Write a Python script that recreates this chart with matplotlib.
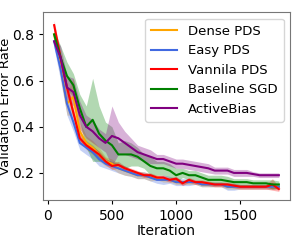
import numpy as np
import matplotlib
matplotlib.use('Agg')
import matplotlib.pyplot as plt

plt.rcParams['font.family'] = ['DejaVu Sans']

iters = np.arange(50, 1801, 50)

# mean curves
dense = [0.80, 0.66, 0.50, 0.53, 0.38, 0.33, 0.31, 0.28, 0.25, 0.24, 0.22, 0.21,
         0.20, 0.19, 0.19, 0.18, 0.18, 0.17, 0.17, 0.16, 0.16, 0.16, 0.16, 0.15,
         0.15, 0.15, 0.15, 0.14, 0.14, 0.14, 0.14, 0.14, 0.14, 0.14, 0.14, 0.14]
easy = [0.77, 0.65, 0.50, 0.42, 0.33, 0.31, 0.29, 0.26, 0.24, 0.23, 0.22, 0.21,
        0.20, 0.19, 0.19, 0.18, 0.17, 0.17, 0.17, 0.16, 0.16, 0.16, 0.16, 0.15,
        0.15, 0.15, 0.15, 0.14, 0.14, 0.14, 0.14, 0.14, 0.14, 0.14, 0.14, 0.14]
vannila = [0.84, 0.70, 0.57, 0.46, 0.35, 0.32, 0.30, 0.28, 0.25, 0.23, 0.235, 0.22,
           0.21, 0.20, 0.19, 0.19, 0.18, 0.18, 0.17, 0.175, 0.155, 0.17, 0.16, 0.16,
           0.155, 0.15, 0.15, 0.15, 0.145, 0.14, 0.14, 0.14, 0.14, 0.14, 0.15, 0.13]
baseline = [0.80, 0.70, 0.62, 0.58, 0.48, 0.40, 0.43, 0.37, 0.34, 0.32, 0.28, 0.28,
            0.28, 0.27, 0.25, 0.23, 0.22, 0.22, 0.21, 0.19, 0.20, 0.19, 0.19, 0.18,
            0.17, 0.17, 0.17, 0.165, 0.16, 0.16, 0.16, 0.155, 0.155, 0.155, 0.15, 0.15]
activebias = [0.77, 0.70, 0.57, 0.55, 0.45, 0.40, 0.38, 0.35, 0.33, 0.36, 0.35, 0.33,
              0.31, 0.29, 0.28, 0.27, 0.26, 0.26, 0.25, 0.24, 0.24, 0.235, 0.23, 0.225,
              0.22, 0.21, 0.21, 0.21, 0.20, 0.20, 0.20, 0.195, 0.19, 0.19, 0.19, 0.19]

# half widths of the shaded bands
dense_sd = [0.03, 0.05, 0.05, 0.08, 0.04, 0.03, 0.03, 0.03, 0.02, 0.02, 0.02, 0.02,
            0.015, 0.015, 0.015, 0.015, 0.01, 0.01, 0.01, 0.01, 0.01, 0.01, 0.01, 0.01,
            0.01, 0.01, 0.01, 0.01, 0.01, 0.01, 0.01, 0.01, 0.01, 0.01, 0.01, 0.01]
easy_sd = [0.03, 0.05, 0.05, 0.04, 0.03, 0.03, 0.03, 0.03, 0.02, 0.02, 0.02, 0.02,
           0.015, 0.015, 0.015, 0.015, 0.015, 0.02, 0.015, 0.015, 0.015, 0.015, 0.01, 0.01,
           0.01, 0.01, 0.01, 0.015, 0.015, 0.01, 0.01, 0.01, 0.01, 0.01, 0.01, 0.01]
vannila_sd = [0.02, 0.02, 0.02, 0.02, 0.02, 0.015, 0.015, 0.015, 0.015, 0.015, 0.015, 0.01,
              0.01, 0.01, 0.01, 0.01, 0.01, 0.01, 0.01, 0.01, 0.01, 0.01, 0.01, 0.01,
              0.01, 0.01, 0.01, 0.01, 0.01, 0.01, 0.01, 0.01, 0.01, 0.01, 0.025, 0.01]
baseline_sd = [0.02, 0.05, 0.06, 0.05, 0.06, 0.09, 0.18, 0.12, 0.08, 0.08, 0.05, 0.06,
               0.05, 0.04, 0.03, 0.04, 0.03, 0.03, 0.03, 0.03, 0.02, 0.02, 0.02, 0.02,
               0.02, 0.02, 0.02, 0.02, 0.015, 0.015, 0.015, 0.015, 0.015, 0.015, 0.02, 0.015]
activebias_sd = [0.02, 0.05, 0.05, 0.06, 0.06, 0.05, 0.05, 0.04, 0.04, 0.13, 0.07, 0.05,
                 0.04, 0.03, 0.03, 0.03, 0.02, 0.02, 0.02, 0.02, 0.02, 0.02, 0.02, 0.02,
                 0.02, 0.015, 0.015, 0.015, 0.015, 0.015, 0.015, 0.01, 0.01, 0.01, 0.01, 0.01]

series = [
    ('Dense PDS', dense, dense_sd, 'orange'),
    ('Easy PDS', easy, easy_sd, 'royalblue'),
    ('Vannila PDS', vannila, vannila_sd, 'red'),
    ('Baseline SGD', baseline, baseline_sd, 'green'),
    ('ActiveBias', activebias, activebias_sd, 'purple'),
]

fig = plt.figure(figsize=(3.0, 2.45), dpi=100)
ax = fig.add_axes([0.143, 0.184, 0.824, 0.767])

for name, m, sd, c in series:
    m = np.array(m)
    sd = np.array(sd)
    ax.fill_between(iters, m - sd, m + sd, color=c, alpha=0.3, lw=0)
    ax.plot(iters, m, color=c, lw=1.5, label=name)

ax.set_xticks([0, 500, 1000, 1500])
ax.set_yticks([0.2, 0.4, 0.6, 0.8])
ax.tick_params(labelsize=10, length=3)
ax.set_xlabel('Iteration', fontsize=10, labelpad=1)
ax.set_ylabel('Validation Error Rate', fontsize=9.5)
ax.yaxis.set_label_coords(-0.125, 0.5)
for s in ax.spines.values():
    s.set_color('#777777')
ax.legend(loc='upper right', fontsize=9.5, handlelength=2.0, borderpad=0.45,
          labelspacing=0.5, handletextpad=0.8)

fig.savefig('out.png', dpi=100)
